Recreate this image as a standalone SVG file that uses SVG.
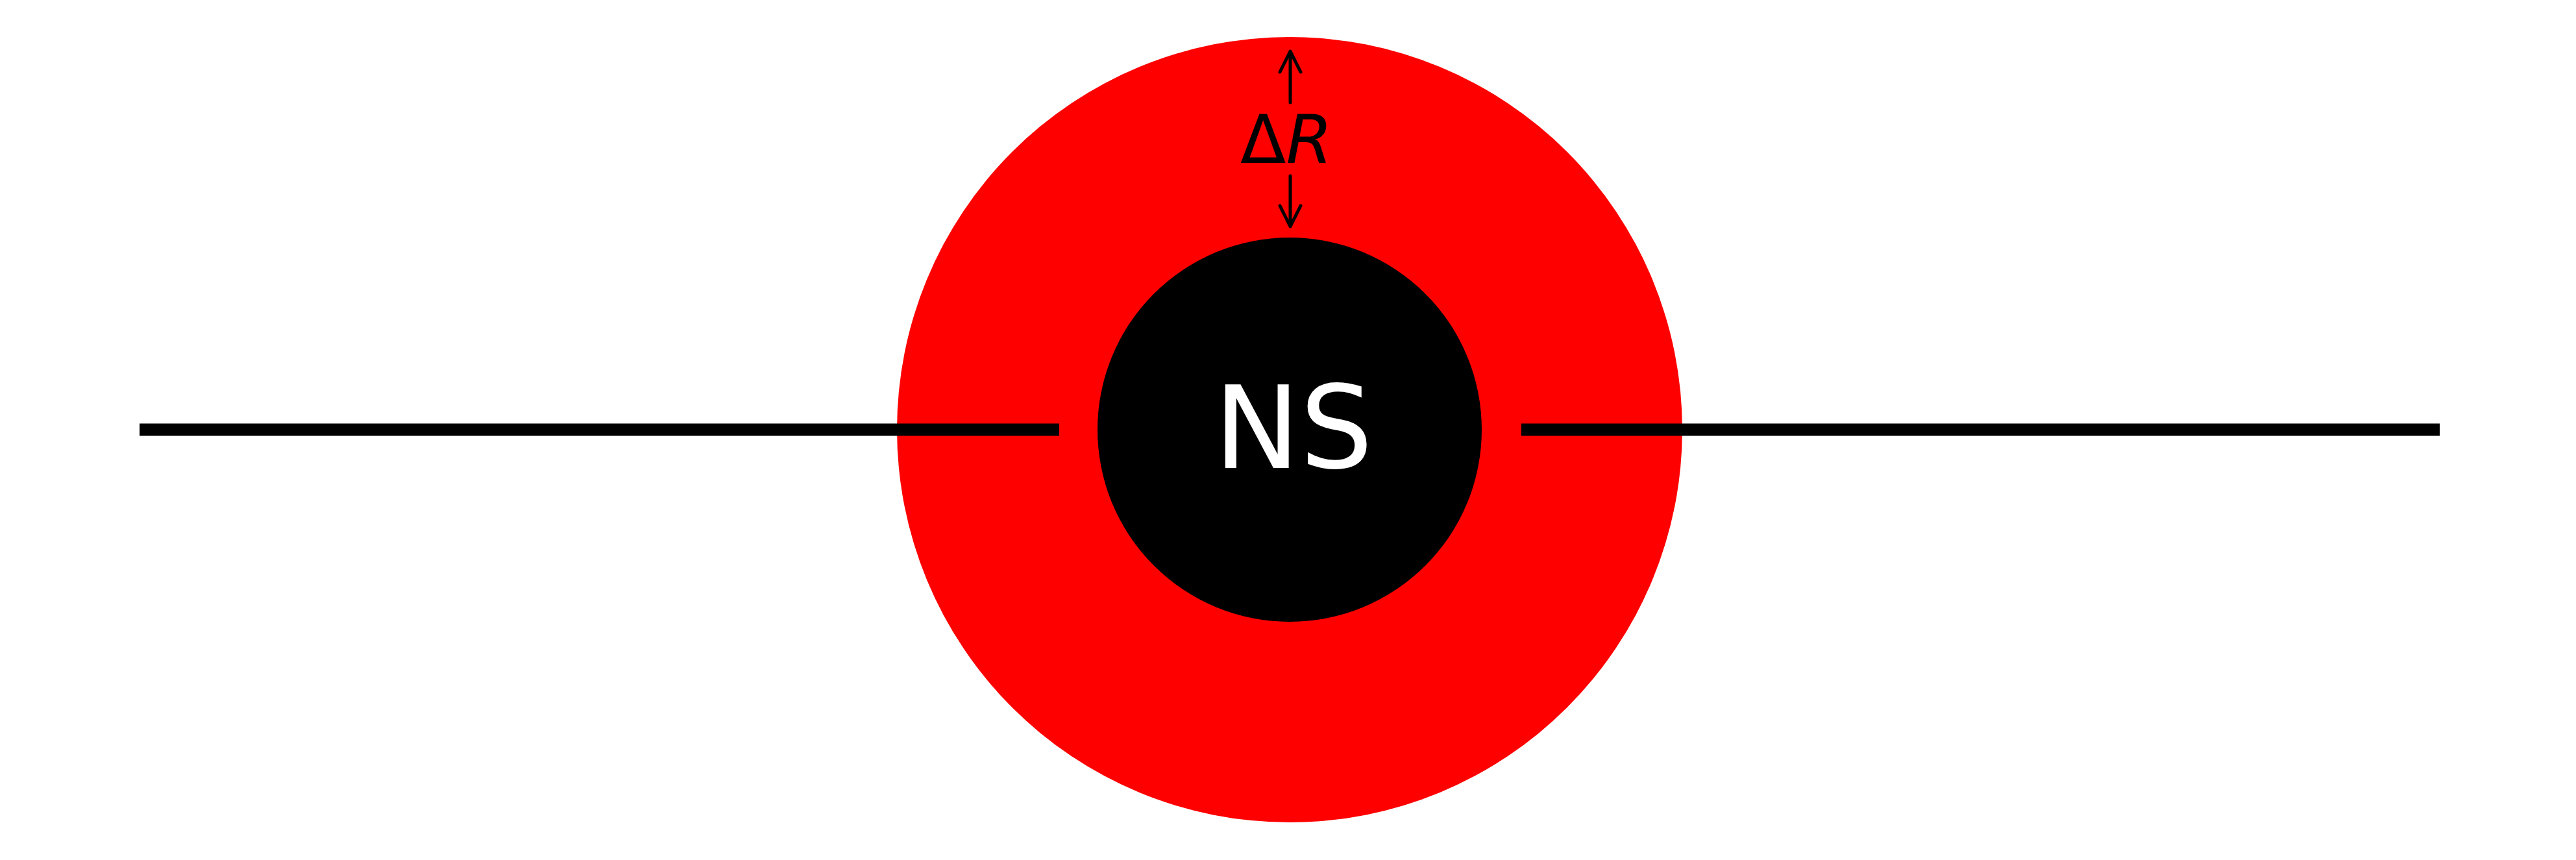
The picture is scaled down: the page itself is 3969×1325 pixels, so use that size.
<svg xmlns="http://www.w3.org/2000/svg" width="3969" height="1325" viewBox="0 0 3969 1325">
<style>
.ln{stroke:#000;stroke-width:19;fill:none}
.ar{stroke:#000;stroke-width:5;fill:none;stroke-linecap:round;stroke-linejoin:round}
</style>
<rect width="3969" height="1325" fill="#fff"/>
<g id="shell"><circle cx="1987" cy="662" r="605" fill="#ff0000"/></g>
<g id="ns"><circle cx="1987" cy="662" r="296" fill="#000"/>
<text x="1993" y="721" font-family="DejaVu Sans, sans-serif" font-size="177" fill="#fff" text-anchor="middle">NS</text></g>
<g id="connectors">
<line class="ln" x1="215" y1="662" x2="1632" y2="662"/>
<line class="ln" x1="2344" y1="662" x2="3759" y2="662"/>
<path class="ar" d="M1988 158 V80 M1972 111 L1988 79 L2004 111"/>
<path class="ar" d="M1988 271 V347 M1972 317 L1988 349 L2004 317"/>
</g>
<g id="label"><text x="1982" y="251" font-family="DejaVu Sans, sans-serif" font-size="103" fill="#000" text-anchor="middle">Δ<tspan font-style="italic">R</tspan></text></g>
</svg>
